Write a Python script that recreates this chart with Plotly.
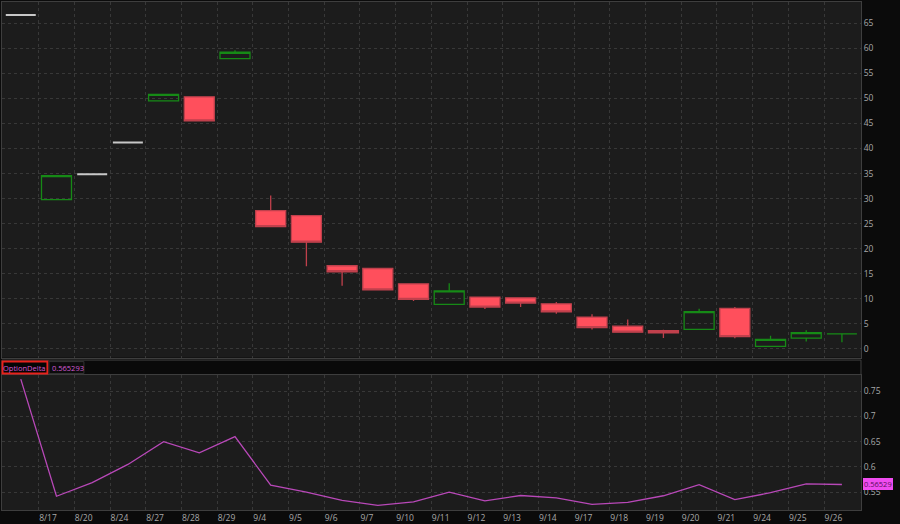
import plotly.graph_objects as go

# ---- data ----
tick_labels = ["8/17", "8/20", "8/24", "8/27", "8/28", "8/29", "9/4", "9/5", "9/6", "9/7",
               "9/10", "9/11", "9/12", "9/13", "9/14", "9/17", "9/18", "9/19", "9/20",
               "9/21", "9/24", "9/25", "9/26"]

opens  = [66.65, 29.8, 34.85, 41.2, 49.5, 50.3, 57.95, 27.6, 26.6, 16.6, 16.05, 13.0,
          8.9, 10.35, 10.2, 9.0, 6.35, 4.55, 3.65, 3.9, 8.1, 0.5, 2.15, 3.0]
highs  = [66.65, 34.6, 34.85, 41.2, 50.8, 50.3, 59.6, 30.6, 26.6, 16.6, 16.05, 13.0,
          13.1, 10.35, 10.2, 9.35, 6.9, 5.85, 3.85, 8.0, 8.35, 2.65, 3.75, 3.0]
lows   = [66.65, 29.8, 34.85, 41.2, 49.5, 45.5, 57.95, 24.4, 16.5, 12.6, 11.8, 9.55,
          8.9, 7.95, 8.35, 7.0, 3.9, 3.35, 2.2, 3.9, 2.15, 0.5, 1.5, 1.35]
closes = [66.65, 34.6, 34.85, 41.2, 50.8, 45.5, 59.2, 24.4, 21.3, 15.4, 11.8, 9.9,
          11.6, 8.35, 9.15, 7.4, 4.25, 3.35, 3.2, 7.45, 2.45, 1.9, 3.25, 3.0]

option_delta = [0.774, 0.542, 0.569, 0.605, 0.650, 0.628, 0.660, 0.564, 0.550, 0.534,
                0.524, 0.531, 0.550, 0.533, 0.5435, 0.539, 0.526, 0.530, 0.543, 0.565,
                0.5355, 0.549, 0.5665, 0.56529]
last_delta_label = "0.56529"
header_value_label = "0.565293"

n = len(opens)
xs = list(range(n))
tick_pos = [i + 0.5 for i in range(len(tick_labels))]

# groups: no-trade flat (high == low), up (close >= open), down (close < open)
groups = {"flat": [], "up": [], "down": []}
for i in xs:
    if highs[i] == lows[i] and opens[i] == closes[i]:
        groups["flat"].append(i)
    elif closes[i] >= opens[i]:
        groups["up"].append(i)
    else:
        groups["down"].append(i)

styles = {
    "flat": dict(line="#c8c8c8", fill="#c8c8c8", lw=2),
    "up": dict(line="#168a16", fill="rgba(0,0,0,0)", lw=1.3),
    "down": dict(line="#c0404c", fill="#ff4f5c", lw=1.3),
}

PLOT_BG = "#1c1c1c"
PAPER_BG = "#0b0b0b"
GRID = "#383838"
BORDER = "#3e3e3e"
TICKC = "#a8a8a8"
MAG = "#b848b8"
FONT = "Open Sans"

fig = go.Figure()
for g, idx in groups.items():
    st = styles[g]
    fig.add_trace(go.Candlestick(
        x=[xs[i] for i in idx],
        open=[opens[i] for i in idx], high=[highs[i] for i in idx],
        low=[lows[i] for i in idx], close=[closes[i] for i in idx],
        increasing=dict(line=dict(color=st["line"], width=st["lw"]), fillcolor=st["fill"]),
        decreasing=dict(line=dict(color=st["line"], width=st["lw"]), fillcolor=st["fill"]),
        whiskerwidth=0, xaxis="x", yaxis="y", showlegend=False, hoverinfo="skip"))

fig.add_trace(go.Scatter(x=xs, y=option_delta, mode="lines",
                         line=dict(color=MAG, width=1.3), xaxis="x2", yaxis="y2",
                         showlegend=False, hoverinfo="skip"))

xcommon = dict(range=[-0.526, n - 1 + 0.534], tickvals=tick_pos, ticktext=tick_labels,
               showgrid=True, gridcolor=GRID, griddash="dot", gridwidth=1,
               zeroline=False, showline=True, linecolor=BORDER, mirror=True,
               ticks="", fixedrange=True)
ycommon = dict(side="right", showgrid=True, gridcolor=GRID, griddash="dot", gridwidth=1,
               zeroline=False, showline=True, linecolor=BORDER, mirror=True, ticks="",
               tickfont=dict(color=TICKC, size=8.5, family=FONT))

top_dom = [(511 - 358) / 510, 1.0]
bot_dom = [0.0, (511 - 375) / 510]

fig.update_layout(
    width=900, height=524,
    margin=dict(l=1, r=39, t=1, b=13),
    paper_bgcolor=PAPER_BG, plot_bgcolor=PLOT_BG,
    boxgap=0.16, boxgroupgap=0,
    font=dict(family=FONT, color=TICKC, size=8.5),
    xaxis=dict(xcommon, anchor="y", showticklabels=False,
               rangeslider=dict(visible=False)),
    xaxis2=dict(xcommon, anchor="y2", matches="x", showticklabels=True,
                ticklabelposition="outside right",
                tickfont=dict(color=TICKC, size=8.5, family=FONT)),
    yaxis=dict(ycommon, domain=top_dom, anchor="x", range=[-1.73, 69.23], dtick=5, tick0=0),
    yaxis2=dict(ycommon, domain=bot_dom, anchor="x2", range=[0.5148, 0.783],
                tickvals=[0.55, 0.6, 0.65, 0.7, 0.75]),
)


def py(p):  # pixel y -> paper
    return (511 - p) / 510


def px(p):  # pixel x -> paper
    return (p - 1) / 860


shapes = [
    dict(type="rect", xref="paper", yref="paper", x0=0, x1=1, y0=py(375), y1=py(360.5),
         fillcolor="#0a0a0a", line=dict(color=BORDER, width=1), layer="above"),
    dict(type="rect", xref="paper", yref="paper", x0=px(1.5), x1=px(46.5), y0=py(374), y1=py(362),
         fillcolor="#050505", line=dict(color="#e8221c", width=2), layer="above"),
    dict(type="rect", xref="paper", yref="paper", x0=px(48), x1=px(83), y0=py(374), y1=py(362),
         fillcolor="#0c0c0c", line=dict(color="#333333", width=1), layer="above"),
]
fig.update_layout(shapes=shapes)

fig.add_annotation(xref="paper", yref="paper", x=px(24), y=py(368), text="OptionDelta",
                   showarrow=False, font=dict(color="#d45ad4", size=7.5, family=FONT),
                   xanchor="center", yanchor="middle")
fig.add_annotation(xref="paper", yref="paper", x=px(49.5), y=py(368), text=header_value_label,
                   showarrow=False, font=dict(color="#d45ad4", size=7.5, family=FONT),
                   xanchor="left", yanchor="middle")
fig.add_annotation(xref="paper", yref="y2", x=1, xshift=2, y=option_delta[-1],
                   text=last_delta_label, showarrow=False, xanchor="left", yanchor="middle",
                   bgcolor="#f04cf0", bordercolor="#f04cf0", borderpad=0,
                   font=dict(color="#5a105a", size=7.5, family=FONT))

fig.write_html("out.html", config={"displayModeBar": False},
               post_script="document.body.style.margin='0';document.body.style.overflow='hidden';")
